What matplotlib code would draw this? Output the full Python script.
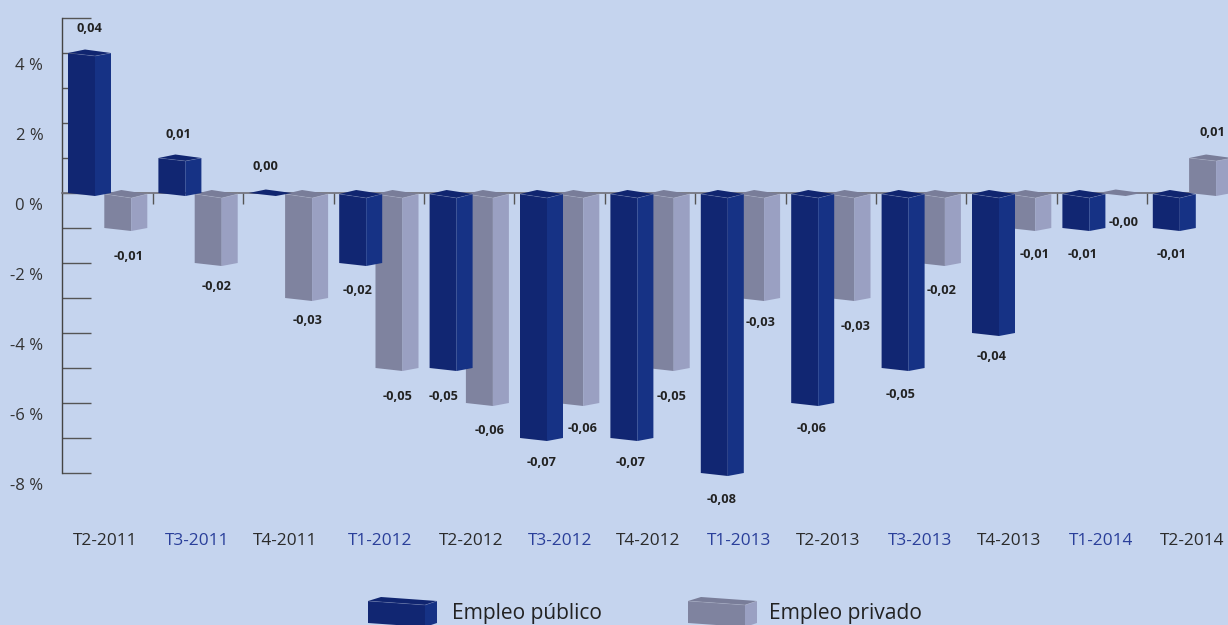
import matplotlib.pyplot as plt
from matplotlib.patches import Polygon
from matplotlib.transforms import ScaledTranslation

plt.rcParams["font.family"] = ["Open Sans", "DejaVu Sans"]

periods = ["T2-2011", "T3-2011", "T4-2011", "T1-2012", "T2-2012", "T3-2012", "T4-2012",
           "T1-2013", "T2-2013", "T3-2013", "T4-2013", "T1-2014", "T2-2014"]
publico = [4, 1, 0, -2, -5, -7, -7, -8, -6, -5, -4, -1, -1]
privado = [-1, -2, -3, -5, -6, -6, -5, -3, -3, -2, -1, 0, 1]
publico_labels = ["0,04", "0,01", "0,00", "-0,02", "-0,05", "-0,07", "-0,07",
                  "-0,08", "-0,06", "-0,05", "-0,04", "-0,01", "-0,01"]
privado_labels = ["-0,01", "-0,02", "-0,03", "-0,05", "-0,06", "-0,06", "-0,05",
                  "-0,03", "-0,03", "-0,02", "-0,01", "-0,00", "0,01"]
y_major = [-8, -6, -4, -2, 0, 2, 4]
y_minor = [-7, -5, -3, -1, 1, 3, 5]

# label nudges in pixels (x from bar centre, y from bar end)
pub_dx = [0, -1, -4, -3, -7, 1, -1, 0, -1, -2, -1, -1, -2]
pub_dy = [24, 23, 26, 27, 28, 24, 24, 26, 25, 26, 24, 27, 27]
priv_dx = [3, 1, 1, 1, 3, 5, 4, 2, 7, 3, 5, 4, 2]
priv_dy = [28, 24, 22, 28, 27, 25, 29, 25, 28, 28, 27, 29, 26]
period_dx = [0, 2, -1, 4, 5, 3, 1, 1, 0, 1, 0, 2, 2]

BG = "#c5d4ee"
PUB = ("#112672", "#163285", "#102570")
PRIV = ("#7f839f", "#9aa0c2", "#797d99")

PITCH = 90.4  # px per category
UNIT = 35.0   # px per percent
X0, Y0 = 105.0, 193.0  # pixel of category 0 / of the 0 % line


def px(dx):
    return dx / PITCH


def py(dy):
    return dy / UNIT


fig, ax = plt.subplots(figsize=(12.28, 6.25), dpi=100)
fig.patch.set_facecolor(BG)
ax.set_facecolor(BG)
ax.set_position([0, 0, 1, 1])
ax.set_xlim(-X0 / PITCH, (1228 - X0) / PITCH)
ax.set_ylim(-(625 - Y0) / UNIT, Y0 / UNIT)


def bar3d(x, top, bottom, colors, w=27, d=16, skew=3, top_skew=3, rise=3.5, apex=17, z=3):
    front, side, cap = colors
    w, d, skew, top_skew, rise, apex = px(w), px(d), py(skew), py(top_skew), py(rise), px(apex)
    ax.add_patch(Polygon([(x, top), (x + w, top - top_skew), (x + w, bottom - skew), (x, bottom)],
                         fc=front, ec="none", zorder=z))
    ax.add_patch(Polygon([(x + w, top - top_skew), (x + w + d, top), (x + w + d, bottom), (x + w, bottom - skew)],
                         fc=side, ec="none", zorder=z))
    ax.add_patch(Polygon([(x, top), (x + w, top - top_skew), (x + w + d, top), (x + apex, top + rise)],
                         fc=cap, ec="none", zorder=z))
    if top != bottom:
        ax.plot([x, x + w, x + w + d], [top, top - top_skew, top], color="white", lw=0.5, alpha=0.2, zorder=z)


def draw_bar(x, val, colors, z):
    # negative bars hang a touch below the zero line
    if val < 0:
        bar3d(x, -py(1), val, colors, top_skew=4, rise=4, z=z)
    else:
        bar3d(x, val, 0, colors, z=z)


for i, (pub, priv) in enumerate(zip(publico, privado)):
    draw_bar(i + px(-0.7), priv, PRIV, 3)
    draw_bar(i + px(-37), pub, PUB, 4)

    for val, txt, left, dx, dy in ((pub, publico_labels[i], -37, pub_dx[i], pub_dy[i]),
                                   (priv, privado_labels[i], -0.7, priv_dx[i], priv_dy[i])):
        sign = 1 if val > 0 or txt == "0,00" else -1
        ax.text(i + px(left + 21 + dx), val + sign * py(dy), txt, ha="center", va="center",
                fontsize=9.2, fontweight="bold", color="#222222", zorder=6)

    ax.text(i + px(period_dx[i]), -(541 - Y0) / UNIT, periods[i], ha="center", va="center", fontsize=12.4,
            color="#2a3f9a" if i % 2 else "#2b2b2b")

# axes
for s in ("top", "right"):
    ax.spines[s].set_visible(False)
ax.spines["left"].set_position(("data", (62 - X0) / PITCH))
ax.spines["left"].set_bounds(-8, 5)
ax.spines["bottom"].set_position(("data", 0))
ax.spines["bottom"].set_bounds((62 - X0) / PITCH, (1190 - X0) / PITCH)
ax.spines["left"].set_color("#444444")
ax.spines["left"].set_linewidth(1.0)
ax.spines["bottom"].set_color("#6f6f78")
ax.spines["bottom"].set_linewidth(1.2)
ax.set_axisbelow(True)

ax.set_yticks(y_major)
ax.set_yticklabels([f"{v} %" for v in y_major])
ax.set_yticks(y_minor, minor=True)
ax.tick_params(axis="y", which="both", direction="in", length=21, width=1.0, color="#555555")
ax.tick_params(axis="y", which="major", labelsize=12, labelcolor="#333333", pad=13.5)
shift = ScaledTranslation(0, -11 / 100, fig.dpi_scale_trans)
for lab in ax.get_yticklabels():
    lab.set_transform(lab.get_transform() + shift)

ax.set_xticks([i + 0.528 for i in range(12)])
ax.set_xticklabels([])
ax.tick_params(axis="x", direction="out", length=8, width=1.0, color="#555555")

# legend
leg_top = -(601 - Y0) / UNIT
leg_bottom = -(623 - Y0) / UNIT
bar3d((368 - X0) / PITCH, leg_top, leg_bottom, PUB, w=57, d=12, skew=4, top_skew=4, rise=4, apex=13, z=5)
bar3d((688 - X0) / PITCH, leg_top, leg_bottom, PRIV, w=57, d=12, skew=4, top_skew=4, rise=4, apex=13, z=5)
ax.text((452 - X0) / PITCH, -(613 - Y0) / UNIT, "Empleo público", ha="left", va="center",
        fontsize=15.1, color="#222222")
ax.text((769 - X0) / PITCH, -(613 - Y0) / UNIT, "Empleo privado", ha="left", va="center",
        fontsize=15.1, color="#222222")

plt.savefig("out.png", dpi=100, facecolor=BG)
